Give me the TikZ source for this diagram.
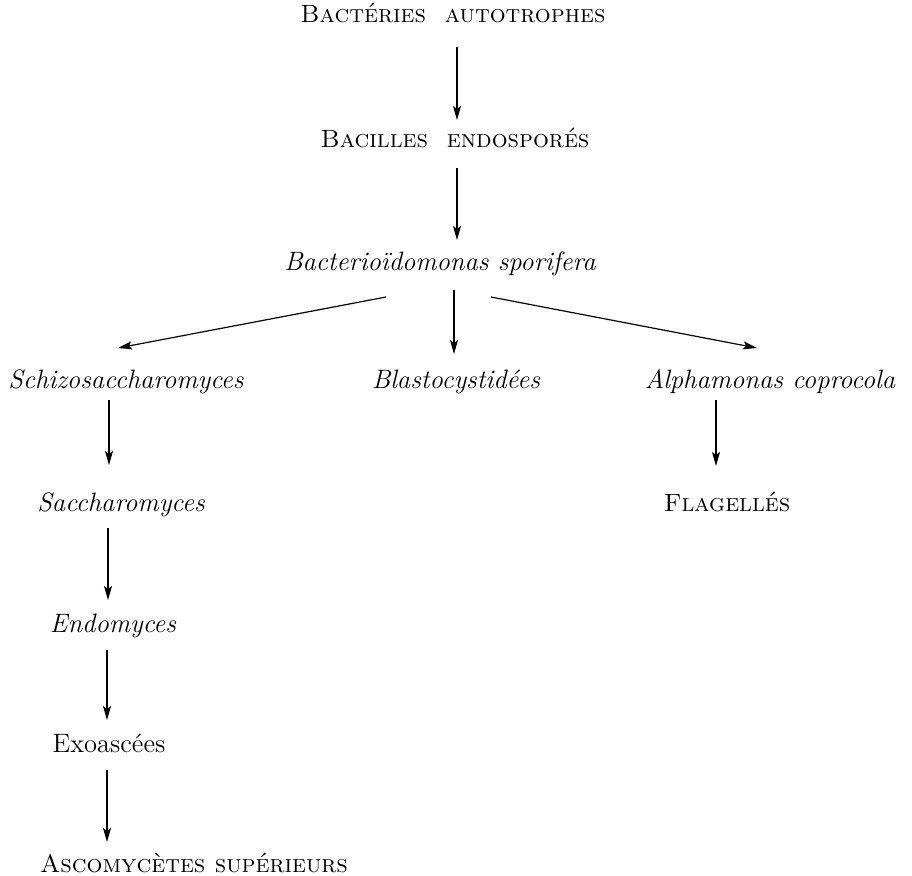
\documentclass[tikz,border=0pt]{standalone}
\usepackage{fontspec}
\usetikzlibrary{arrows.meta,calc}
\begin{document}
\begin{tikzpicture}[x=0.5pt,y=-0.5pt,
  lab/.style={inner sep=0pt,anchor=base},
  itl/.style={lab,font=\fontsize{13.3}{16}\selectfont\itshape},
  scl/.style={lab,font=\fontsize{12.5}{15}\selectfont\scshape},
  rml/.style={lab,font=\fontsize{13.3}{16}\selectfont},
  arr/.style={line width=0.6pt,-{Stealth[length=7pt,width=4pt,inset=1.5pt]}}]
\path[use as bounding box,fill=white] (0,0) rectangle (912,875);
\node[scl] (bact) at (453,22) {Bactéries\ \ autotrophes};
\node[scl] (bacil) at (455,147) {Bacilles\ \ endosporés};
\node[itl] (bacterio) at (440,270) {Bacterioïdomonas sporifera};
\node[itl] (schizo) at (126,388) {Schizosaccharomyces};
\node[itl] (blasto) at (456,388) {Blastocystidées};
\node[itl] (alpha) at (770,388) {Alphamonas coprocola};
\node[itl] (sacch) at (121,511) {Saccharomyces};
\node[scl] (flag) at (727,511) {Flagellés};
\node[itl] (endo) at (113,632) {Endomyces};
\node[rml] (exo) at (109,752) {Exoascées};
\node[scl] (asco) at (194,872) {Ascomycètes supérieurs};
\draw[arr] ($(bact.base)+(4,25)$) -- ($(bacil.base)+(2,-27)$);
\draw[arr] ($(bacil.base)+(2,21)$) -- ($(bacterio.base)+(17,-30)$);
\draw[arr] ($(bacterio.base)+(-54,27)$) -- ($(schizo.base)+(-8,-40)$);
\draw[arr] ($(bacterio.base)+(14,20)$) -- ($(blasto.base)+(-2,-34)$);
\draw[arr] ($(bacterio.base)+(51,27)$) -- ($(alpha.base)+(-13,-40)$);
\draw[arr] ($(schizo.base)+(-17,12)$) -- ($(sacch.base)+(-12,-46)$);
\draw[arr] ($(alpha.base)+(-54,12)$) -- ($(flag.base)+(-11,-45)$);
\draw[arr] ($(sacch.base)+(-13,17)$) -- ($(endo.base)+(-5,-32)$);
\draw[arr] ($(endo.base)+(-6,18)$) -- ($(exo.base)+(-2,-32)$);
\draw[arr] ($(exo.base)+(-2,18)$) -- ($(asco.base)+(-87,-30)$);
\end{tikzpicture}
\end{document}
